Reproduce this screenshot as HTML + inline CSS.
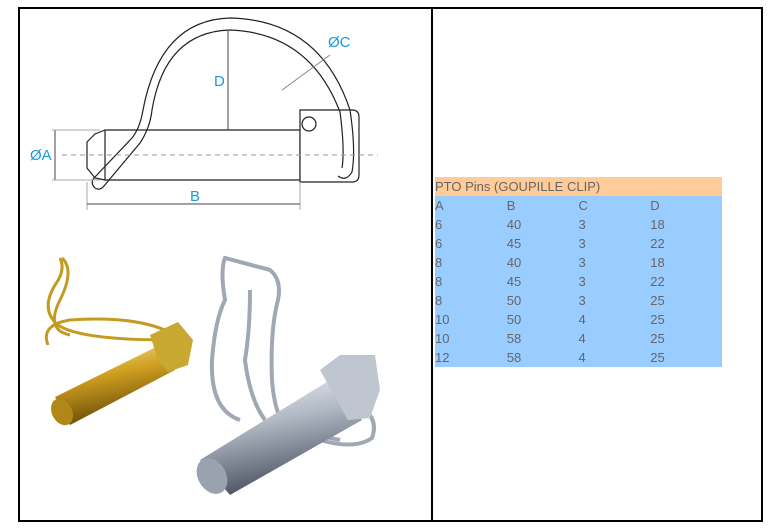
<!DOCTYPE html>
<html><head><style>
body{margin:0;background:#fff;width:769px;height:528px;position:relative;font-family:"Liberation Sans",Arial,sans-serif;overflow:hidden}
.box{position:absolute;left:18px;top:7px;width:741px;height:511px;border:2px solid #000}
.div{position:absolute;left:431px;top:7px;width:2px;height:515px;background:#000}
table{position:absolute;left:435px;top:177px;width:287px;border-collapse:collapse;font-size:13px;color:#666}
td{height:19px;padding:0;vertical-align:middle;width:72px;background:#99ccff}
tr.h td{background:#ffcc99}
</style></head><body>
<div class="box"></div><div class="div"></div>
<svg width="431" height="528" style="position:absolute;left:0;top:0">
<defs>
<linearGradient id="g" x1="0" y1="0" x2="0.3" y2="1"><stop offset="0" stop-color="#f6e89a"/><stop offset=".45" stop-color="#d0a020"/><stop offset="1" stop-color="#6a4a08"/></linearGradient>
<linearGradient id="s" x1="0" y1="0" x2="0.3" y2="1"><stop offset="0" stop-color="#f4f6fa"/><stop offset=".45" stop-color="#b0b8c4"/><stop offset="1" stop-color="#4a5260"/></linearGradient>
</defs>
<g fill="none" stroke="#222" stroke-width="1.2">
<path d="M105 130 H300 V180 H105 Z" fill="#fff"/>
<path d="M105 130 L95 134 L87 142 V168 L95 178 L105 180"/>
<path d="M300 110 H352 Q359 110 359 117 V175 Q359 182 352 182 H300 Z" fill="#fff"/>
<circle cx="309" cy="124" r="7"/>
<path d="M95 188 Q90 183 94 178 L132 138 Q140 128 143 110 Q160 20 230 18 Q320 20 350 110 Q356 150 352 172 Q346 182 338 176" />
<path d="M95 188 Q100 191 104 186 L140 143 Q150 128 152 110 Q165 32 230 30 Q310 33 340 112 Q345 150 342 168"/>
</g>
<line x1="62" y1="155" x2="378" y2="155" stroke="#999" stroke-dasharray="5,4"/>
<g stroke="#444" stroke-width="1" fill="#333">
<line x1="55" y1="130" x2="55" y2="180"/><line x1="52" y1="130" x2="100" y2="130" stroke="#aaa"/><line x1="52" y1="180" x2="100" y2="180" stroke="#aaa"/>
<line x1="87" y1="182" x2="87" y2="210" stroke="#aaa"/><line x1="300" y1="182" x2="300" y2="210" stroke="#aaa"/>
<line x1="87" y1="204" x2="300" y2="204"/>
<line x1="228" y1="31" x2="228" y2="130"/>
<line x1="282" y1="90" x2="330" y2="55" stroke="#888"/>
</g>
<g font-size="15" fill="#1a9ae0">
<text x="30" y="160">ØA</text><text x="190" y="201">B</text><text x="214" y="86">D</text><text x="328" y="47">ØC</text>
</g>
<!-- gold pin -->
<g fill="none" stroke="#c49a20" stroke-width="3">
<path d="M60 258 Q66 270 55 285 Q40 310 58 325 Q80 340 170 340 Q180 338 178 332"/>
<path d="M62 258 Q75 270 60 300 Q45 330 70 335"/>
<path d="M48 345 Q40 325 70 320 Q140 315 175 335 Q170 350 160 360 Q140 385 95 380"/>
</g>
<path d="M55 397 L160 345 L175 370 L70 425 Z" fill="url(#g)"/>
<ellipse cx="62" cy="412" rx="10" ry="14" transform="rotate(-28 62 412)" fill="#b08818"/>
<path d="M150 335 L178 322 L193 340 L188 365 L168 372 L158 360 Z" fill="#c8a830"/>
<!-- silver pin -->
<g fill="none" stroke="#a0a8b4" stroke-width="4">
<path d="M240 420 Q210 410 212 360 Q215 320 225 300 Q220 270 225 258 L270 270 Q282 280 278 300 Q270 330 272 380 Q275 420 290 430 L340 440"/>
<path d="M250 290 Q250 330 245 360 Q250 400 265 420"/>
<path d="M355 405 Q380 415 372 438 Q355 450 320 440"/>
</g>
<path d="M200 460 L330 380 L362 420 L230 495 Z" fill="url(#s)"/>
<ellipse cx="212" cy="476" rx="14" ry="19" transform="rotate(-30 212 476)" fill="#9aa2b0"/>
<path d="M320 370 L340 355 L375 355 L380 390 L370 418 L348 420 Z" fill="#c0c6d0"/>
</svg>
<table>
<tr class="h"><td colspan="4">PTO Pins (GOUPILLE CLIP)</td></tr>
<tr><td>A</td><td>B</td><td>C</td><td>D</td></tr>
<tr><td>6</td><td>40</td><td>3</td><td>18</td></tr>
<tr><td>6</td><td>45</td><td>3</td><td>22</td></tr>
<tr><td>8</td><td>40</td><td>3</td><td>18</td></tr>
<tr><td>8</td><td>45</td><td>3</td><td>22</td></tr>
<tr><td>8</td><td>50</td><td>3</td><td>25</td></tr>
<tr><td>10</td><td>50</td><td>4</td><td>25</td></tr>
<tr><td>10</td><td>58</td><td>4</td><td>25</td></tr>
<tr><td>12</td><td>58</td><td>4</td><td>25</td></tr>
</table>
</body></html>
